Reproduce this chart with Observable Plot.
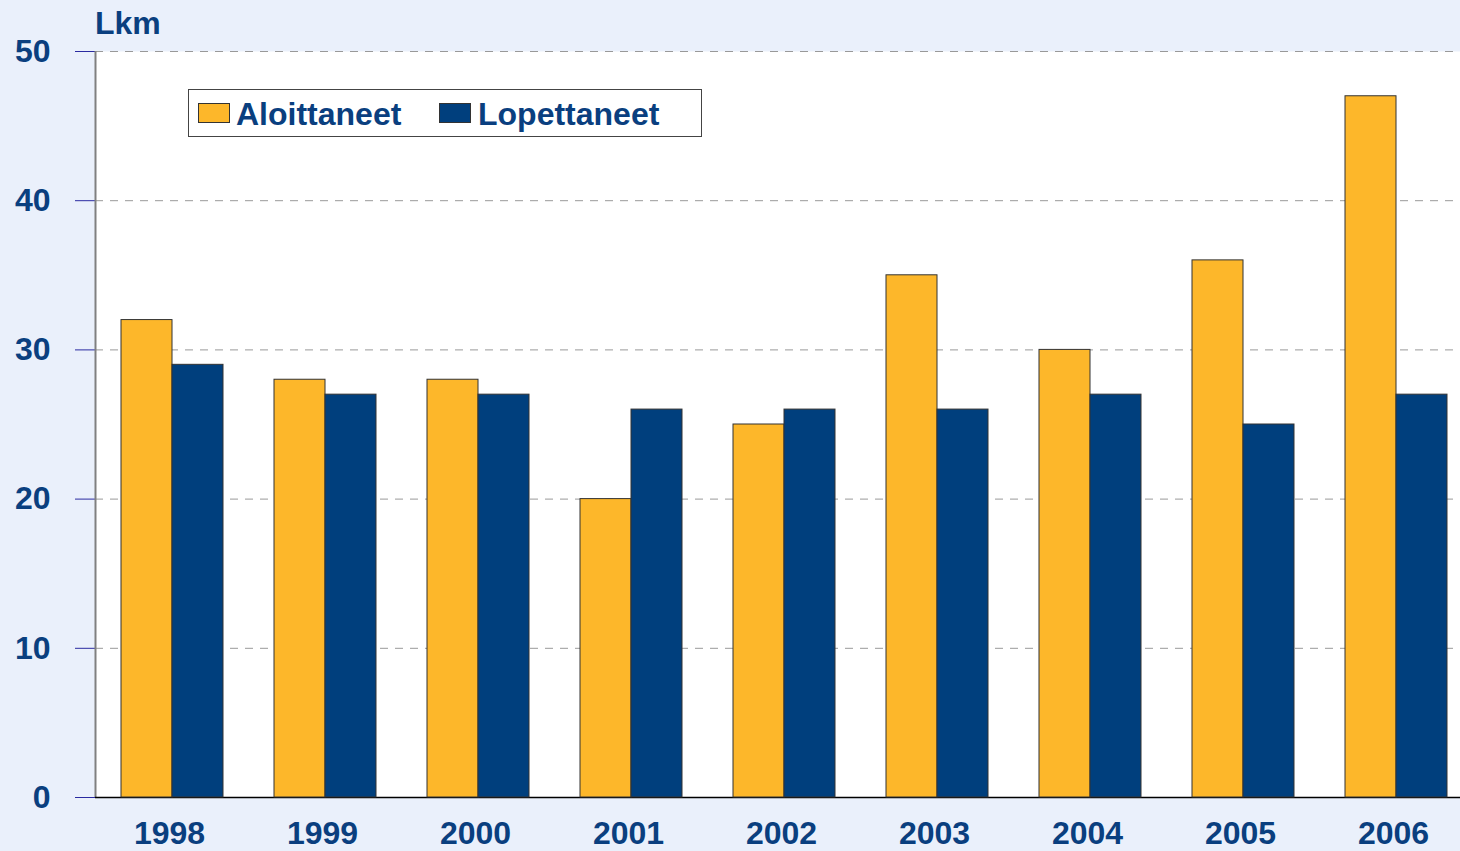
<!DOCTYPE html>
<html>
<head>
<meta charset="utf-8">
<script src="https://cdn.jsdelivr.net/npm/d3@7"></script>
<script src="https://cdn.jsdelivr.net/npm/@observablehq/plot@0.6"></script>
<style>
  html, body { margin: 0; padding: 0; background: #EAF0FB; overflow: hidden; width: 1460px; height: 851px; }
  #wrap { position: relative; width: 1460px; height: 851px; overflow: hidden; font-family: "Liberation Sans", Arial, sans-serif; }
  #wrap svg { position: absolute; left: 0; top: 0; max-width: none !important; width: 1472px !important; height: 851px !important; }
  .lbl { position: absolute; color: #0a3f7f; font-weight: bold; white-space: nowrap; }
  #legend { position: absolute; left: 188px; top: 89px; width: 512px; height: 46px; background: white; border: 1px solid #444; }
  .sw { position: absolute; width: 30px; height: 18px; border: 1px solid #333; }
</style>
</head>
<body>
<div id="wrap"></div>
<script>
const years = ["1998", "1999", "2000", "2001", "2002", "2003", "2004", "2005", "2006"];
const aloittaneet = [32, 28, 28, 20, 25, 35, 30, 36, 47];
const lopettaneet = [29, 27, 27, 26, 26, 26, 27, 25, 27];
const seriesNames = ["Aloittaneet", "Lopettaneet"];
const seriesColors = ["#FDB72A", "#003F7D"];
const yTicks = [0, 10, 20, 30, 40, 50];
const yLabel = "Lkm";

const data = years.flatMap((yr, i) => [
  {year: yr, series: seriesNames[0], value: aloittaneet[i]},
  {year: yr, series: seriesNames[1], value: lopettaneet[i]}
]);

const W = 1472, H = 851;
const common = {
  width: W, height: H,
  marginLeft: 95, marginRight: 0, marginTop: 51, marginBottom: 54,
  style: {background: "transparent", overflow: "visible", maxWidth: "none", fontFamily: "Liberation Sans, Arial, sans-serif"}
};
const textColor = "#0a3f7f";

// Layer A: plot background, grid, y axis
const back = Plot.plot({
  ...common,
  x: {domain: [0, 1], axis: null},
  y: {domain: [0, 50], axis: null},
  marks: [
    Plot.frame({fill: "white", stroke: null}),
    Plot.gridY(yTicks, {stroke: "#999999", strokeOpacity: 1, strokeDasharray: "8,7"}),
    Plot.axisY(yTicks, {tickSize: 20, tickPadding: 25, fontSize: 32, fontWeight: "bold", fill: textColor, stroke: "#2a2aa0", label: null, tickFormat: d => String(d)}),
    Plot.ruleX([0], {stroke: "#808080", strokeWidth: 2}),
    Plot.ruleY([0], {stroke: "black", strokeWidth: 1.5})
  ]
});

// Layer B: grouped bars
const bars = Plot.plot({
  ...common,
  fx: {domain: years, paddingInner: 1/3, paddingOuter: 1/6, label: null},
  x: {domain: seriesNames, padding: 0, axis: null},
  y: {domain: [0, 50], axis: null},
  color: {domain: seriesNames, range: seriesColors},
  marks: [
    Plot.barY(data, {fx: "year", x: "series", y: "value", fill: "series", stroke: "#333333", strokeWidth: 1}),
    Plot.axisFx({anchor: "bottom", tickSize: 0, tickPadding: 24, dx: -3, fontSize: 32, fontWeight: "bold", fill: textColor, label: null})
  ]
});

const wrap = document.getElementById("wrap");
wrap.appendChild(back);
wrap.appendChild(bars);

const lkm = document.createElement("div");
lkm.className = "lbl";
lkm.style.cssText = "left:95px;top:8px;font-size:32px;line-height:30px;";
lkm.textContent = yLabel;
wrap.appendChild(lkm);

const legend = document.createElement("div");
legend.id = "legend";
const swX = [9, 250];
const txX = [47, 289];
seriesNames.forEach((name, i) => {
  const sw = document.createElement("div");
  sw.className = "sw";
  sw.style.left = swX[i] + "px";
  sw.style.top = "13px";
  sw.style.background = seriesColors[i];
  legend.appendChild(sw);
  const t = document.createElement("div");
  t.className = "lbl";
  t.style.cssText = `left:${txX[i]}px;top:9px;font-size:32px;line-height:30px;`;
  t.textContent = name;
  legend.appendChild(t);
});
wrap.appendChild(legend);
</script>
</body>
</html>
